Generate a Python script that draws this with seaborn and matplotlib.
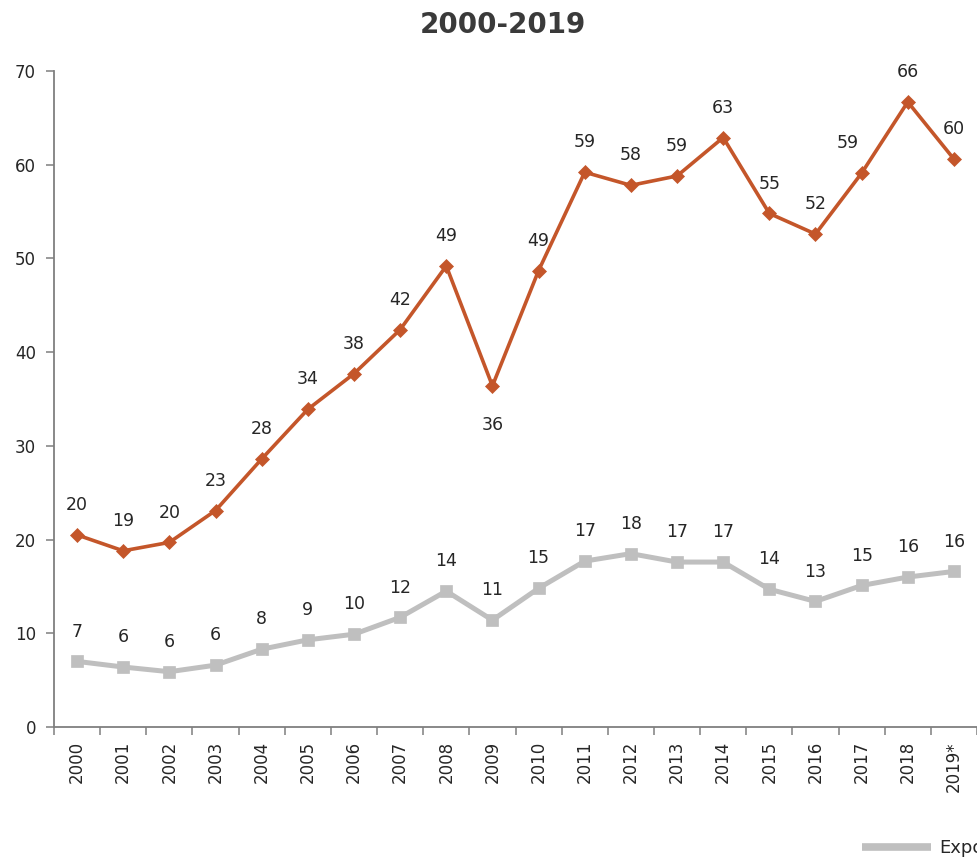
#!/usr/bin/env python3
"""Line chart 2000-2019: two series with value labels (seaborn)."""

import matplotlib
matplotlib.use("Agg")
import matplotlib.pyplot as plt
from matplotlib.lines import Line2D
from matplotlib.ticker import FixedLocator, NullFormatter
import numpy as np
import pandas as pd
import seaborn as sns


YEARS = ["2000", "2001", "2002", "2003", "2004", "2005", "2006", "2007", "2008", "2009",
         "2010", "2011", "2012", "2013", "2014", "2015", "2016", "2017", "2018", "2019*"]

# orange series
IMPORTS = [20.5, 18.8, 19.7, 23.1, 28.6, 33.9, 37.7, 42.4, 49.2, 36.4,
           48.7, 59.2, 57.8, 58.8, 62.9, 54.8, 52.6, 59.1, 66.7, 60.6]
IMPORTS_LABELS = ["20", "19", "20", "23", "28", "34", "38", "42", "49", "36",
                  "49", "59", "58", "59", "63", "55", "52", "59", "66", "60"]

# grey series
EXPORTS = [7.0, 6.4, 5.9, 6.6, 8.3, 9.3, 9.9, 11.7, 14.5, 11.4,
           14.8, 17.7, 18.5, 17.6, 17.6, 14.7, 13.4, 15.1, 16.0, 16.6]
EXPORTS_LABELS = ["7", "6", "6", "6", "8", "9", "10", "12", "14", "11",
                  "15", "17", "18", "17", "17", "14", "13", "15", "16", "16"]

TITLE = "2000-2019"
LEGEND_LABEL = "Exportaciones"

ORANGE = "#C4562A"
GREY = "#BFBFBF"
TEXT = "#262626"
AXIS = "#7F7F7F"


def main():
    sns.set_theme(style="white")
    plt.rcParams["font.family"] = ["DejaVu Sans"]

    df = pd.DataFrame({
        "pos": np.arange(len(YEARS)),
        "year": YEARS,
        "imports": IMPORTS,
        "exports": EXPORTS,
    })

    fig = plt.figure(figsize=(9.77, 8.67), dpi=100)
    ax = fig.add_axes([54 / 977, 1 - 727 / 867, 1 - 54 / 977, (727 - 71) / 867])
    ax.set_facecolor("none")

    sns.lineplot(data=df, x="pos", y="imports", ax=ax, color=ORANGE, lw=2.6,
                 marker="D", markersize=7, markeredgecolor=ORANGE,
                 markeredgewidth=0.5, zorder=3)
    sns.lineplot(data=df, x="pos", y="exports", ax=ax, color=GREY, lw=3.6,
                 marker="s", markersize=8.5, markeredgecolor=GREY,
                 markeredgewidth=0.5, zorder=3)

    # value labels
    for i, row in df.iterrows():
        dy = -22 if i == 9 else 15
        va = "top" if dy < 0 else "bottom"
        dx = -10 if i == 17 else 0
        ax.annotate(IMPORTS_LABELS[i], (row["pos"], row["imports"]),
                    xytext=(dx, dy), textcoords="offset points",
                    ha="center", va=va, fontsize=12.5, color=TEXT)
        ax.annotate(EXPORTS_LABELS[i], (row["pos"], row["exports"]),
                    xytext=(0, 15), textcoords="offset points",
                    ha="center", va="bottom", fontsize=12.5, color=TEXT)

    ax.set_xlim(-0.5, len(YEARS) - 0.5)
    ax.set_ylim(0, 70)
    ax.set_yticks(range(0, 71, 10))
    ax.set_xticks(df["pos"])
    ax.set_xticklabels(YEARS, rotation=90, fontsize=12, color=TEXT)
    ax.xaxis.set_minor_locator(FixedLocator(np.arange(-0.5, len(YEARS), 1.0)))
    ax.xaxis.set_minor_formatter(NullFormatter())
    ax.tick_params(axis="x", which="major", length=0, pad=10)
    ax.tick_params(axis="x", which="minor", length=6, width=1.1, color=AXIS,
                   direction="out", bottom=True)
    ax.tick_params(axis="y", length=6, width=1.1, color=AXIS, pad=7,
                   labelsize=12, labelcolor=TEXT, left=True)
    ax.set_xlabel("")
    ax.set_ylabel("")

    sns.despine(ax=ax, top=True, right=True)
    for side in ("left", "bottom"):
        ax.spines[side].set_color(AXIS)
        ax.spines[side].set_linewidth(1.3)

    fig.text(503 / 977, 1 - 25 / 867, TITLE, ha="center", va="center",
             fontsize=20, fontweight="bold", color="#3A3A3A")

    # legend sits at the bottom right, partly outside the figure as in the source
    handle = Line2D([], [], color=GREY, lw=5.5, solid_capstyle="butt")
    fig.legend([handle], [LEGEND_LABEL], loc="center left",
               bbox_to_anchor=(862 / 977, 1 - 848 / 867), frameon=False,
               fontsize=13, handlelength=3.8, handletextpad=0.5,
               borderpad=0, borderaxespad=0, labelcolor=TEXT)

    fig.savefig("out.png", dpi=100)
    plt.close(fig)


if __name__ == "__main__":
    main()
